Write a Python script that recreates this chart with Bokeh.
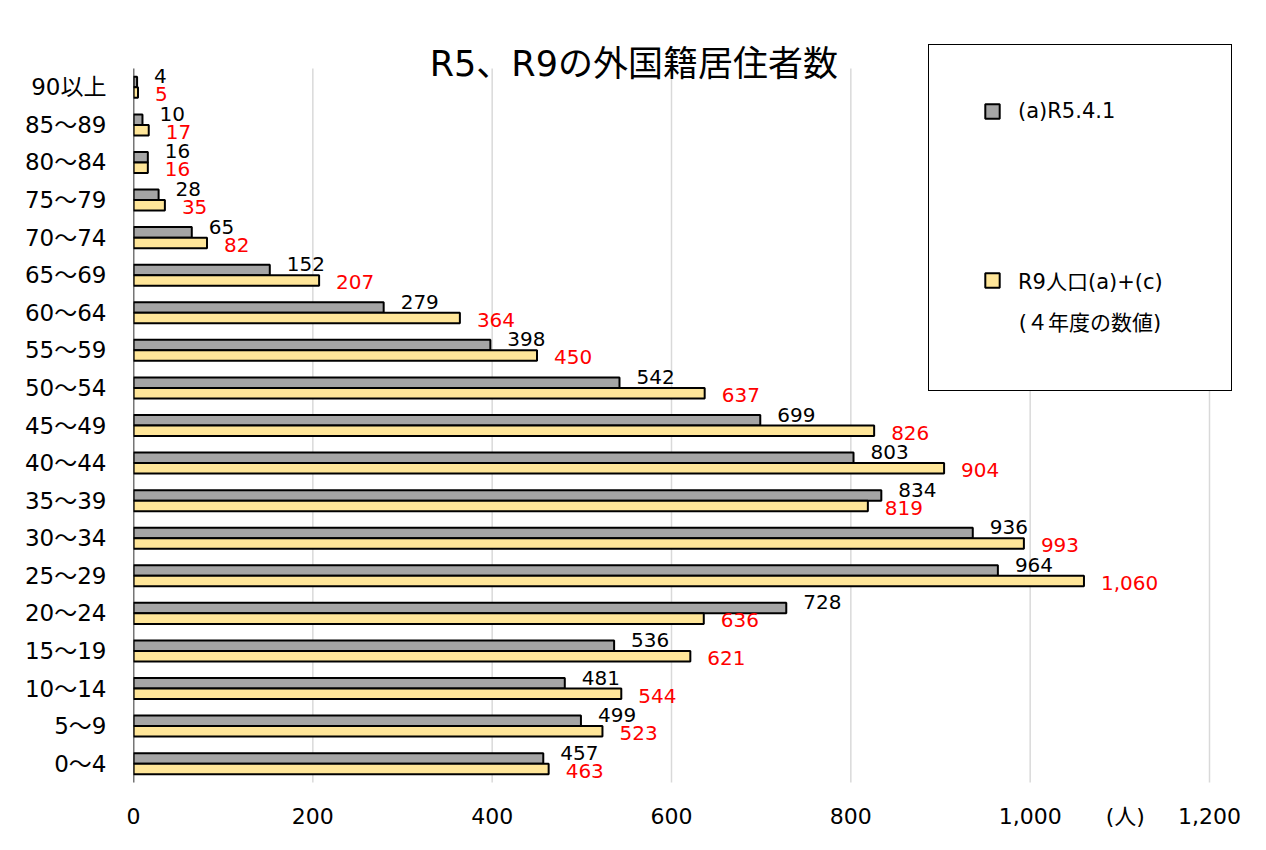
from bokeh.plotting import figure
from bokeh.models import (ColumnDataSource, FactorRange, Range1d, FixedTicker,
                          NumeralTickFormatter, Legend, LegendItem, Label)
from bokeh.transform import dodge
from bokeh.core.properties import value
from bokeh.embed import file_html
from bokeh.resources import INLINE

# ---- data (bottom to top) ----
ages = ["0～4", "5～9", "10～14", "15～19", "20～24", "25～29", "30～34",
        "35～39", "40～44", "45～49", "50～54", "55～59", "60～64", "65～69",
        "70～74", "75～79", "80～84", "85～89", "90以上"]
r5 = [457, 499, 481, 536, 728, 964, 936, 834, 803, 699, 542, 398, 279, 152,
      65, 28, 16, 10, 4]
r9 = [463, 523, 544, 621, 636, 1060, 993, 819, 904, 826, 637, 450, 364, 207,
      82, 35, 16, 17, 5]
series_names = ["(a)R5.4.1", "R9人口(a)+(c)"]
series_note = "(４年度の数値)"
x_ticks = [0, 200, 400, 600, 800, 1000, 1200]
title_text = "R5、R9の外国籍居住者数"
unit_text = "(人)"
UNIT_POS = 1106          # where the unit text sits along the x axis

FONT = "DejaVu Sans, Noto Sans CJK JP"
n = len(ages)

src = ColumnDataSource(dict(
    age=ages, r5=r5, r9=r9,
    r5_lbl=[f"{v:,}" for v in r5],
    r9_lbl=[f"{v:,}" for v in r9],
))

p = figure(width=1262, height=846,
           y_range=FactorRange(factors=ages, range_padding=0.0674),
           x_range=Range1d(0, 1200 * 1107 / 1076),
           output_backend="svg", toolbar_location=None,
           min_border_left=133, min_border_right=22,
           min_border_top=44, min_border_bottom=40)
p.outline_line_color = None
p.background_fill_color = "white"
p.border_fill_color = "white"

# vertical gridlines spanning the category band only
grid_src = ColumnDataSource(dict(x=x_ticks, y0=[0] * len(x_ticks),
                                 y1=[n] * len(x_ticks)))
p.segment(x0="x", x1="x", y0="y0", y1="y1", source=grid_src,
          line_color="#d9d9d9", line_width=1.5)

g1 = p.hbar(y=dodge("age", 0.14, range=p.y_range), left=0, right="r5",
            height=0.28, fill_color="#a5a5a5", line_color="black",
            line_width=2, source=src)
g2 = p.hbar(y=dodge("age", -0.14, range=p.y_range), left=0, right="r9",
            height=0.28, fill_color="#ffe699", line_color="black",
            line_width=2, source=src)

# category axis line
p.segment(x0=[0], x1=[0], y0=[0], y1=[n], line_color="black", line_width=1.5)

p.text(x="r5", y="age", text="r5_lbl", source=src, x_offset=17, y_offset=-11,
       text_align="left", text_baseline="middle", text_color="black",
       text_font=value(FONT), text_font_size="20px")
p.text(x="r9", y="age", text="r9_lbl", source=src, x_offset=17, y_offset=7,
       text_align="left", text_baseline="middle", text_color="#ff0000",
       text_font=value(FONT), text_font_size="20px")

# axes
p.xaxis.ticker = FixedTicker(ticks=x_ticks + [UNIT_POS])
p.xaxis.formatter = NumeralTickFormatter(format="0,0")
p.xaxis.major_label_overrides = {UNIT_POS: unit_text}
p.xaxis.axis_line_color = None
p.xaxis.major_tick_line_color = None
p.xaxis.minor_tick_line_color = None
p.xaxis.major_tick_out = 0
p.xaxis.major_tick_in = 0
p.xaxis.major_label_text_font = FONT
p.xaxis.major_label_text_font_size = "22px"
p.xaxis.major_label_text_color = "black"
p.xaxis.major_label_standoff = -3

p.yaxis.axis_line_color = None
p.yaxis.major_tick_line_color = None
p.yaxis.minor_tick_line_color = None
p.yaxis.major_tick_out = 0
p.yaxis.major_tick_in = 0
p.yaxis.major_label_text_font = FONT
p.yaxis.major_label_text_font_size = "23px"
p.yaxis.major_label_text_color = "black"
p.yaxis.major_label_standoff = 27

p.xgrid.grid_line_color = None
p.ygrid.grid_line_color = None

# title
p.add_layout(Label(x=558, y=n + 0.13, text=title_text, text_align="center",
                   text_baseline="middle", text_font=FONT,
                   text_font_size="35px", text_color="black"))

legend = Legend(items=[LegendItem(label=series_names[0], renderers=[g1]),
                       LegendItem(label=series_names[1], renderers=[g2])],
                location=(795, 415), padding=54, spacing=142, margin=0,
                glyph_width=18, glyph_height=18, label_standoff=17,
                label_width=159,
                label_text_font=FONT, label_text_font_size="21px",
                label_text_color="black",
                title="\u3000\u2002\u2009" + series_note,
                title_location="below",
                title_standoff=11, title_text_font=FONT,
                title_text_font_size="21px", title_text_font_style="normal",
                title_text_color="black",
                border_line_color="black", border_line_width=1.5,
                border_line_alpha=1.0,
                background_fill_color="white", background_fill_alpha=1.0)
p.add_layout(legend, "center")

open("out.html", "w").write(file_html(p, INLINE))
